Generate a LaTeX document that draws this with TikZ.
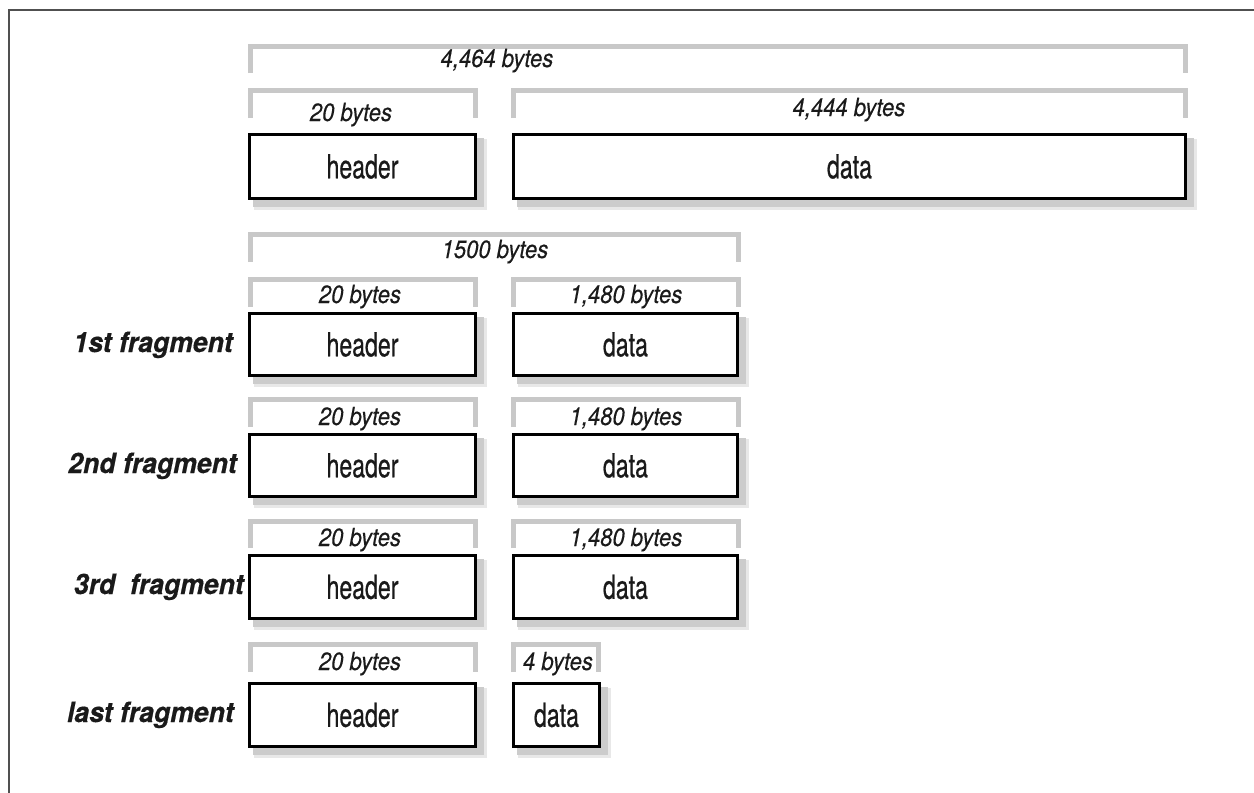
\documentclass[tikz,border=0pt]{standalone}
\usepackage{fontspec}
\newfontfamily\hdrfont[FakeStretch=0.70, FakeBold=0.6]{TeX Gyre Heros}
\newfontfamily\lblfont[FakeStretch=0.88, FakeBold=0.3]{TeX Gyre Heros}
\newfontfamily\fragfont[FakeStretch=0.95, FakeBold=0.5]{TeX Gyre Heros}
\definecolor{brkgray}{HTML}{C8C8C8}
\definecolor{framec}{HTML}{505050}
\definecolor{inkc}{HTML}{1A1A1A}
\tikzset{
  box/.style={draw=black, line width=3pt, fill=white, inner sep=0pt,
    text=inkc, font=\hdrfont\fontsize{33}{33}\selectfont},
  brk/.style={draw=brkgray, line width=5pt, line cap=butt, line join=miter},
  blbl/.style={anchor=base, inner sep=0pt, text=inkc,
    font=\lblfont\itshape\fontsize{25}{25}\selectfont},
  frag/.style={anchor=base east, inner sep=0pt, text=inkc,
    font=\fragfont\bfseries\itshape\fontsize{28}{28}\selectfont},
  shadowA/.style={fill=black!20},
  shadowB/.style={fill=black!9},
  framel/.style={draw=framec, line width=2pt},
}
% #1 name, #2 x1, #3 y1, #4 x2, #5 y2, #6 text
\newcommand\pktbox[6]{%
  \fill[shadowB] (#2+6,#3+6) rectangle (#4+10,#5+10);
  \fill[shadowA] (#2+5,#3+5) rectangle (#4+7,#5+7);
  \pgfmathsetmacro\pkbw{#4-#2-3}%
  \pgfmathsetmacro\pkbh{#5-#3-3}%
  \node[box, minimum width=\pkbw pt, minimum height=\pkbh pt] (#1) at ({(#2+#4)/2},{(#3+#5)/2}) {#6};
}
% #1 x1, #2 x2, #3 ytop, #4 ybottom
\newcommand\brkt[4]{%
  \draw[brk] (#1,#4) -- (#1,#3) -- (#2,#3) -- (#2,#4);
}
\begin{document}
\begin{tikzpicture}[x=1pt, y=-1pt]
\useasboundingbox (0,0) rectangle (1254,793);
\fill[white] (0,0) rectangle (1254,793);
% frame
\coordinate (fbl) at (8.5,793);
\coordinate (ftl) at (8.5,9.5);
\coordinate (ftr) at (1254,9.5);
\draw[framel] (fbl) -- (ftl) -- (ftr);

% ---- whole datagram ----
\brkt{250.5}{1185}{46}{73}
\node[blbl] (t0) at (497,67) {4,464 bytes};
\brkt{250.5}{475}{90}{118}
\node[blbl] (t1) at (351,121) {20 bytes};
\brkt{513.5}{1185}{90}{118}
\node[blbl] (t2) at (849,116) {4,444 bytes};
\pktbox{h0}{248}{133}{477}{200}{header}
\pktbox{d0}{512}{133}{1187}{200}{data}

% ---- fragments ----
\brkt{250.5}{738}{234.5}{262}
\node[blbl] (t3) at (495,258) {1500 bytes};

% row 1
\brkt{250.5}{475}{279.5}{307}
\brkt{513.5}{738}{279.5}{307}
\node[blbl] (r1a) at (360,303) {20 bytes};
\node[blbl] (r1b) at (626,303) {1,480 bytes};
\pktbox{h1}{248}{312}{477}{377}{header}
\pktbox{d1}{512}{312}{739}{377}{data}
\node[frag] (f1) at (233,352) {1st fragment};

% row 2
\brkt{250.5}{475}{399.5}{427}
\brkt{513.5}{738}{399.5}{427}
\node[blbl] (r2a) at (360,425) {20 bytes};
\node[blbl] (r2b) at (626,425) {1,480 bytes};
\pktbox{h2}{248}{433}{477}{498}{header}
\pktbox{d2}{512}{433}{739}{498}{data}
\node[frag] (f2) at (237,473) {2nd fragment};

% row 3
\brkt{250.5}{475}{521.5}{548}
\brkt{513.5}{738}{521.5}{548}
\node[blbl] (r3a) at (360,546) {20 bytes};
\node[blbl] (r3b) at (626,546) {1,480 bytes};
\pktbox{h3}{248}{554}{477}{620}{header}
\pktbox{d3}{512}{554}{739}{620}{data}
\node[frag] (f3) at (244,594) {3rd\ \ fragment};

% row 4
\brkt{250.5}{475}{644}{672}
\brkt{513.5}{598.5}{644}{672}
\node[blbl] (r4a) at (360,670) {20 bytes};
\node[blbl] (r4b) at (558,670) {4 bytes};
\pktbox{h4}{248}{682}{477}{748}{header}
\pktbox{d4}{512}{682}{601}{748}{data}
\node[frag] (f4) at (234,722) {last fragment};
\end{tikzpicture}
\end{document}
